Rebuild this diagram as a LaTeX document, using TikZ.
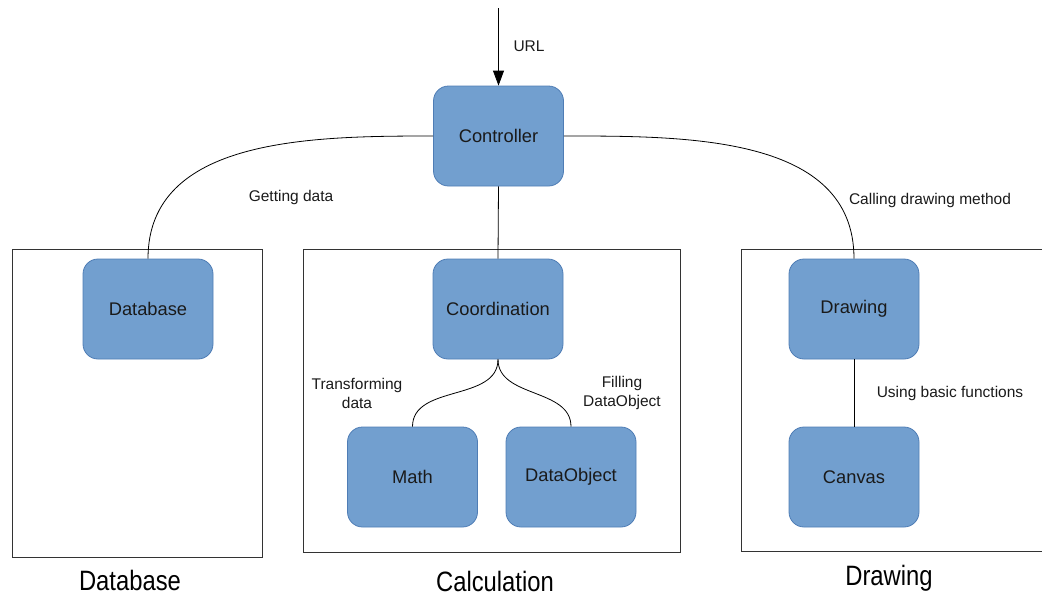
\documentclass[tikz,border=0pt]{standalone}
\usepackage{fontspec}
\setmainfont{Liberation Sans}
\usetikzlibrary{arrows.meta}
\definecolor{boxfill}{HTML}{729FCF}
\definecolor{boxline}{HTML}{4F7DB5}
\definecolor{txt}{HTML}{1A1A1A}
\begin{document}
\begin{tikzpicture}[x=1pt,y=-1pt,
  blk/.style={draw=boxline,fill=boxfill,rounded corners=15pt,minimum width=130pt,minimum height=100pt,inner sep=0pt,line width=0.8pt,text=txt,font=\fontsize{18.3}{20}\selectfont},
  container/.style={draw=black!80,line width=0.9pt},
  lbl/.style={text=txt,font=\fontsize{15.5}{19}\selectfont,align=center},
  caption/.style={text=black,font=\fontsize{28}{30}\selectfont},
  conn/.style={draw=black,line width=0.8pt}]
\useasboundingbox (0,0) rectangle (1042,595);
% containers
\draw[container] (12,249) rectangle (262,557);
\draw[container] (303,249) rectangle (680,552);
\draw[container] (741,249) rectangle (1046,551);
% nodes
\node[blk] (ctrl) at (498.5,136) {Controller};
\node[blk] (db) at (148,309) {Database};
\node[blk] (coord) at (498,309) {Coordination};
\node[blk] (draw) at (854,309) {Drawing};
\node[blk] (math) at (412.5,477) {Math};
\node[blk] (dobj) at (571,477) {DataObject};
\node[blk] (canvas) at (854,477) {Canvas};
% connectors
\coordinate (urlstart) at (498.5,8);
\draw[conn,-{Triangle[length=15pt,width=11pt]}] (urlstart) -- (ctrl.north);
\draw[conn] (ctrl.west) to[out=180,in=90,looseness=1.0] (db.north);
\draw[conn] (ctrl.east) to[out=0,in=90,looseness=1.0] (draw.north);
\draw[conn] (ctrl.south) -- (coord.north);
\draw[conn] (coord.south) to[out=270,in=90] (math.north);
\draw[conn] (coord.south) to[out=270,in=90] (dobj.north);
\draw[conn] (draw.south) -- (canvas.north);
% labels
\node[lbl] (lurl) at (529,46) {URL};
\node[lbl] (lget) at (291,197) {Getting data};
\node[lbl] (lcall) at (930,200) {Calling drawing method};
\node[lbl] (ltrans) at (357,393) {Transforming\\data};
\node[lbl] (lfill) at (622,393) {Filling\\DataObject};
\node[lbl] (luse) at (950,393) {Using basic functions};
% captions
\node[caption] (cdb) at (130,580) {\scalebox{0.85}[1]{Database}};
\node[caption] (ccalc) at (495,581) {\scalebox{0.85}[1]{Calculation}};
\node[caption] (cdraw) at (889,578) {\scalebox{0.85}[1]{Drawing}};
\end{tikzpicture}
\end{document}
